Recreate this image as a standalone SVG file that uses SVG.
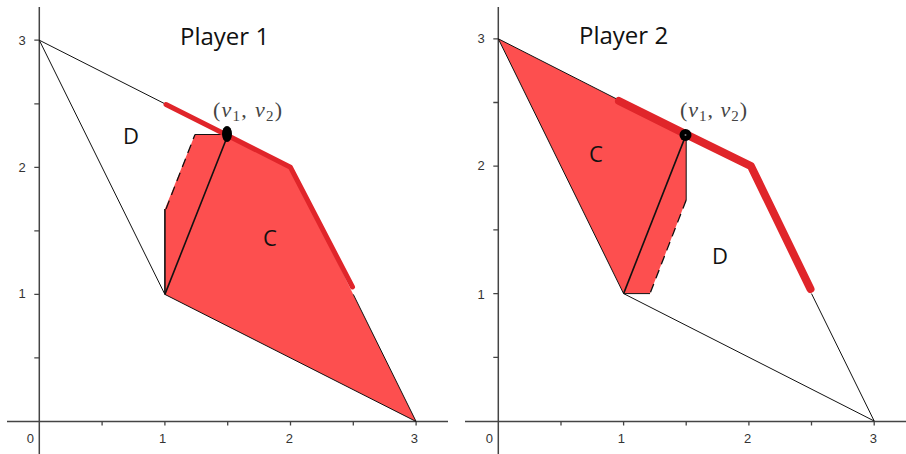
<svg xmlns="http://www.w3.org/2000/svg" width="906" height="454" viewBox="0 0 906 454">
<style>
.axis{stroke:#444;stroke-width:1.5;fill:none}
.tick{stroke:#444;stroke-width:1.3}
.thin{stroke:#111;stroke-width:1;fill:none}
.edge{stroke:#111;stroke-width:1.6;fill:none}
.dash{stroke:#111;stroke-width:1.3;fill:none;stroke-dasharray:9 6}
.region{fill:#fd4f4f;stroke:none}
.front{stroke:#e0252a;fill:none;stroke-linecap:round;stroke-linejoin:round}
.num{font-family:"Liberation Sans",Arial,sans-serif;font-size:13px;fill:#333;text-anchor:middle}
.title{font-family:"Open Sans","Liberation Sans",sans-serif;font-size:24px;fill:#111}
.lab{font-family:"Open Sans","Liberation Sans",sans-serif;font-size:22px;fill:#111;text-anchor:middle}
.math{font-family:"Liberation Serif","Times New Roman",serif;font-size:22px;fill:#444}
</style>
<rect width="906" height="454" fill="#fff"/>

<g id="plot1">
  <g id="axes1">
    <line class="axis" x1="7" y1="421.5" x2="448" y2="421.5"/>
    <line class="axis" x1="39.3" y1="7" x2="39.3" y2="454"/>
    <path class="tick" d="M102.1 421.5v4M164.9 421.5v4M227.7 421.5v4M290.5 421.5v4M353.3 421.5v4M416.1 421.5v4M39.3 357.9h-5M39.3 294.4h-5M39.3 230.8h-5M39.3 167.3h-5M39.3 103.8h-5M39.3 40.2h-5"/>
    <text class="num" x="30.3" y="443">0</text>
    <text class="num" x="162.7" y="443">1</text>
    <text class="num" x="289.3" y="443">2</text>
    <text class="num" x="414.3" y="443">3</text>
    <text class="num" x="22" y="45">3</text>
    <text class="num" x="22" y="172">2</text>
    <text class="num" x="22" y="298">1</text>
  </g>
  <g id="regionC1">
    <polygon class="region" points="164.9,294.4 164.9,209 195,134.5 222,134.5 227.7,135.5 290.5,167.3 353.3,294.4 416.1,421.5"/>
  </g>
  <g id="connectors1">
    <polyline class="thin" points="164.9,103.8 39.3,40.2 164.9,294.4 416.1,421.5 353.3,294.4"/>
    <line class="edge" x1="164.9" y1="294.4" x2="164.9" y2="209"/>
    <line class="dash" x1="166" y1="209" x2="195" y2="134.5"/>
    <line class="thin" x1="195" y1="134.5" x2="222" y2="134.5"/>
    <line class="edge" x1="164.9" y1="294.4" x2="227.7" y2="135.5"/>
    <polyline class="front" stroke-width="5" points="166,104.5 227.7,135.5 290.5,167.3 352.5,287"/>
  </g>
  <g id="point1">
    <ellipse cx="227" cy="134" rx="5" ry="8" fill="#000"/>
    <text class="math" x="213" y="117" textLength="69" lengthAdjust="spacing">(<tspan font-style="italic">v</tspan><tspan font-size="15" dy="4">1</tspan><tspan dy="-4">, </tspan><tspan font-style="italic">v</tspan><tspan font-size="15" dy="4">2</tspan><tspan dy="-4">)</tspan></text>
  </g>
  <text class="title" x="180" y="45">Player 1</text>
  <text class="lab" x="131" y="144">D</text>
  <text class="lab" x="270" y="246">C</text>
</g>

<g id="plot2">
  <g id="axes2">
    <line class="axis" x1="465" y1="421.5" x2="906" y2="421.5"/>
    <line class="axis" x1="498.3" y1="7" x2="498.3" y2="454"/>
    <path class="tick" d="M561 421.5v4M623.6 421.5v4M686.2 421.5v4M748.9 421.5v4M811.5 421.5v4M874.2 421.5v4M498.3 357.3h-5M498.3 293.6h-5M498.3 229.9h-5M498.3 166.2h-5M498.3 102.5h-5M498.3 38.8h-5"/>
    <text class="num" x="489.3" y="443">0</text>
    <text class="num" x="621.3" y="443">1</text>
    <text class="num" x="747.7" y="443">2</text>
    <text class="num" x="873.3" y="443">3</text>
    <text class="num" x="481" y="43">3</text>
    <text class="num" x="481" y="170">2</text>
    <text class="num" x="481" y="299">1</text>
  </g>
  <g id="regionC2">
    <polygon class="region" points="498.3,38.8 686.2,134.4 686.2,200 650,293.6 623.6,293.6"/>
  </g>
  <g id="connectors2">
    <polyline class="thin" points="623.6,102.5 498.3,38.8 623.6,293.6 874.2,421 811.5,293.6"/>
    <line class="thin" x1="686.2" y1="134.4" x2="686.2" y2="200"/>
    <line class="dash" x1="686.2" y1="200" x2="650" y2="293.6"/>
    <line class="thin" x1="623.6" y1="293.6" x2="650" y2="293.6"/>
    <line class="edge" x1="623.6" y1="293.6" x2="686.2" y2="134.4"/>
    <polyline class="front" stroke-width="8" points="619,101 686.2,134.4 751,166.2 810.5,289"/>
  </g>
  <g id="point2">
    <circle cx="685.5" cy="135" r="6" fill="#000"/>
    <circle cx="685.5" cy="135" r="1" fill="#777"/>
    <text class="math" x="680" y="117" textLength="67" lengthAdjust="spacing">(<tspan font-style="italic">v</tspan><tspan font-size="15" dy="4">1</tspan><tspan dy="-4">, </tspan><tspan font-style="italic">v</tspan><tspan font-size="15" dy="4">2</tspan><tspan dy="-4">)</tspan></text>
  </g>
  <text class="title" x="579" y="44">Player 2</text>
  <text class="lab" x="596" y="162">C</text>
  <text class="lab" x="720" y="264">D</text>
</g>
</svg>
